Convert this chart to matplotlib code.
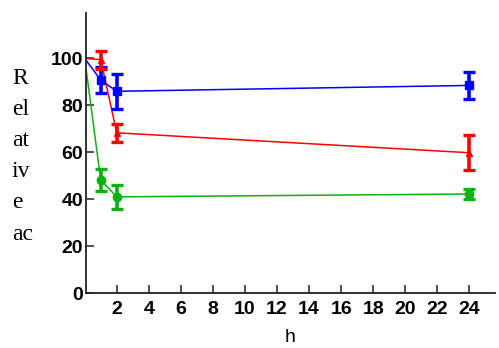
import matplotlib.pyplot as plt

hours = [0, 1, 2, 24]

blue_vals = [100, 90.8, 86.0, 88.5]
blue_err = [0, 5.5, 7.5, 5.8]

red_vals = [100, 99.5, 68.3, 59.8]
red_err = [0, 3.8, 3.8, 7.4]

green_vals = [100, 48.2, 41.0, 42.2]
green_err = [0, 4.8, 5.0, 2.0]

ylabel_lines = ["R", "el", "at", "iv", "e", "ac"]
xticks = list(range(2, 25, 2))
yticks = [0, 20, 40, 60, 80, 100]

fig = plt.figure(figsize=(4.99, 3.48), dpi=100)
ax = fig.add_axes([0.1723, 0.158, 0.8197, 0.8055])

series = [
    (blue_vals, blue_err, "#0000ff", "s", 6),
    (red_vals, red_err, "#ff0000", "^", 4),
    (green_vals, green_err, "#10b010", "o", 6),
]
for vals, err, color, marker, msize in series:
    ax.plot(hours, vals, color=color, linewidth=1.1, zorder=2)
    ax.errorbar(hours[1:], vals[1:], yerr=err[1:], fmt=marker, color=color,
                markersize=msize, elinewidth=2.6, capsize=4, capthick=2.4, zorder=3)

ax.set_xlim(0.08, 25.6)
ax.set_ylim(0, 119.5)
ax.set_xticks(xticks)
ax.set_yticks(yticks)
for side in ["top", "right"]:
    ax.spines[side].set_visible(False)
for side in ["left", "bottom"]:
    ax.spines[side].set_linewidth(1.3)
    ax.spines[side].set_color("#222222")

ax.tick_params(axis="both", direction="in", length=6, width=1.1, color="#222222")
ax.tick_params(axis="x", pad=6)
ax.tick_params(axis="y", pad=2)
for lbl in ax.get_xticklabels() + ax.get_yticklabels():
    lbl.set_fontfamily("Liberation Sans")
    lbl.set_fontweight("bold")
    lbl.set_fontsize(14)

ax.set_xlabel("h", fontfamily="Liberation Sans", fontsize=14, labelpad=8)

# stacked y label, one fragment per line
for i, part in enumerate(ylabel_lines):
    fig.text(0.024, (348 - 78 - i * 31.2) / 348, part, fontfamily="Liberation Serif",
             fontsize=17, ha="left", va="center")

fig.savefig("out.png", dpi=100)
